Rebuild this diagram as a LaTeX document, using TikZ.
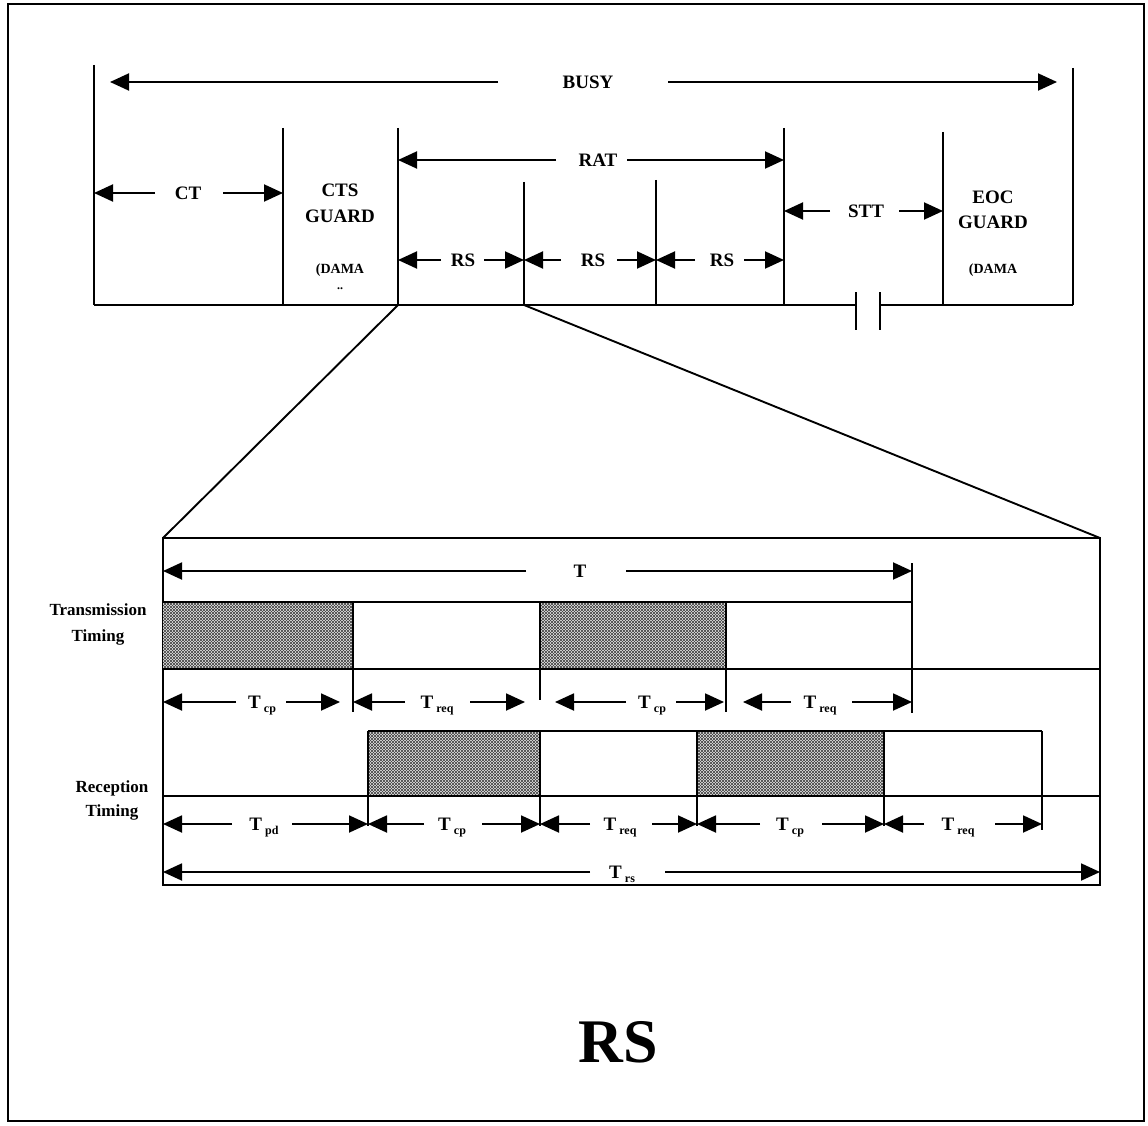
\documentclass[tikz,border=0pt]{standalone}
\usepackage{fontspec}
\setmainfont{Liberation Serif}
\usetikzlibrary{arrows.meta,patterns}
\newcommand\fs[1]{\fontsize{#1}{#1}\selectfont}
\newcommand\Tsub[1]{T\,{\fs{12}\raisebox{-4pt}{#1}}}
% y, x1, xa, xc, xb, x2, text
\newcommand\dimln[7]{%
  \draw[arr] (#3,#1) -- (#2,#1);
  \draw[arr] (#5,#1) -- (#6,#1);
  \node[lbl] at (#4,#1) {#7};}
\begin{document}
\begin{tikzpicture}[x=1pt,y=-1pt,
  arr/.style={-{Triangle[length=19pt,width=17pt]}, line width=1.9pt},
  ln/.style={line width=1.9pt},
  thin/.style={line width=1.4pt},
  lbl/.style={font=\bfseries\fs{19}, anchor=base, yshift=-6.5pt, inner sep=0pt},
  txt/.style={font=\bfseries\fs{19}, inner sep=0pt},
  shade/.style={fill=gray!20}]
\useasboundingbox (0,0) rectangle (1148,1126);
% outer frame
\draw[line width=1.3pt] (8,4) rectangle (1144,1121);

% ---------- top diagram ----------
\draw[ln] (94,65) -- (94,305);
\draw[ln] (283,128) -- (283,305);
\draw[ln] (398,128) -- (398,305);
\draw[ln] (524,182) -- (524,305);
\draw[ln] (656,180) -- (656,305);
\draw[ln] (784,128) -- (784,305);
\draw[ln] (943,132) -- (943,305);
\draw[ln] (1073,68) -- (1073,305);
\draw[ln] (94,305) -- (856,305);
\draw[ln] (880,305) -- (1073,305);
\draw[ln] (856,292) -- (856,330);
\draw[ln] (880,292) -- (880,330);

\dimln{82}{110}{498}{588}{668}{1057}{BUSY}
\dimln{193}{94}{155}{188}{223}{283}{CT}
\dimln{160}{398}{556}{598}{627}{784}{RAT}
\dimln{260}{398}{441}{463}{484}{524}{RS}
\dimln{260}{524}{561}{593}{617}{656}{RS}
\dimln{260}{656}{695}{722}{744}{784}{RS}
\dimln{211}{784}{830}{866}{899}{943}{STT}

\node[txt] at (340,190) {CTS};
\node[txt] at (340,216) {GUARD};
\node[txt, font=\bfseries\fs{14}, anchor=base] at (340,273) {(DAMA};
\node[txt, font=\bfseries\fs{12}, anchor=base] at (340,289) {..};
\node[txt] at (993,197) {EOC};
\node[txt] at (993,222) {GUARD};
\node[txt, font=\bfseries\fs{14}, anchor=base] at (993,273) {(DAMA};

% zoom lines
\draw[ln] (398,305) -- (163,538);
\draw[ln] (524,305) -- (1100,538);

% ---------- bottom detail ----------
\draw[ln] (163,538) rectangle (1100,885);

% T
\dimln{571}{163}{526}{580}{626}{912}{T}
\draw[thin] (912,563) -- (912,713);

% transmission
\foreach \a/\b in {163/353, 540/726}{
  \fill[shade] (\a,602) rectangle (\b,669);
  \fill[pattern=north east lines, pattern color=black!75] (\a,602) rectangle (\b,669);
  \fill[pattern=north west lines, pattern color=black!75] (\a,602) rectangle (\b,669);
}
\draw[ln] (163,602) -- (912,602);
\draw[ln] (163,669) -- (1100,669);
\draw[thin] (353,602) -- (353,712);
\draw[thin] (540,602) -- (540,700);
\draw[thin] (726,602) -- (726,712);

\node[txt, align=center, font=\bfseries\fontsize{17}{26}\selectfont] at (98,624) {Transmission\\Timing};

\dimln{702}{163}{236}{262}{286}{340}{\Tsub{cp}}
\dimln{702}{353}{405}{437}{470}{525}{\Tsub{req}}
\dimln{702}{555}{626}{652}{676}{724}{\Tsub{cp}}
\dimln{702}{743}{791}{820}{852}{912}{\Tsub{req}}

% reception
\foreach \a/\b in {368/540, 697/884}{
  \fill[shade] (\a,731) rectangle (\b,796);
  \fill[pattern=north east lines, pattern color=black!75] (\a,731) rectangle (\b,796);
  \fill[pattern=north west lines, pattern color=black!75] (\a,731) rectangle (\b,796);
}
\draw[ln] (368,731) -- (1042,731);
\draw[ln] (163,796) -- (1100,796);
\draw[thin] (368,731) -- (368,826);
\draw[thin] (540,731) -- (540,826);
\draw[thin] (697,731) -- (697,826);
\draw[thin] (884,731) -- (884,826);
\draw[thin] (1042,731) -- (1042,830);

\node[txt, align=center, font=\bfseries\fontsize{17}{24}\selectfont] at (112,800) {Reception\\Timing};

\dimln{824}{163}{232}{264}{292}{368}{\Tsub{pd}}
\dimln{824}{368}{424}{452}{482}{540}{\Tsub{cp}}
\dimln{824}{540}{590}{620}{652}{697}{\Tsub{req}}
\dimln{824}{697}{760}{790}{822}{884}{\Tsub{cp}}
\dimln{824}{884}{924}{958}{995}{1042}{\Tsub{req}}

\dimln{872}{163}{590}{622}{665}{1100}{\Tsub{rs}}

% big label
\node[font=\bfseries\fs{62}, inner sep=0pt] at (618,1042) {RS};
\end{tikzpicture}
\end{document}
